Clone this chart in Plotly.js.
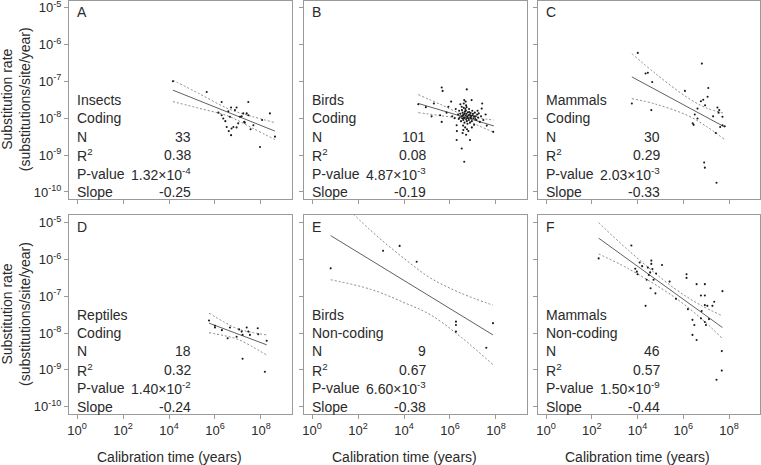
<!DOCTYPE html>
<html><head><meta charset="utf-8">
<script src="https://cdn.plot.ly/plotly-3.0.1.min.js"></script>
<style>html,body{margin:0;padding:0;background:#fff}#chart{width:761px;height:465px}</style>
</head><body><div id="chart"></div>
<script>
// ---- panel text ----
const panelLetters = ['A','B','C','D','E','F'];
const groupNames = ['Insects','Birds','Mammals','Reptiles','Birds','Mammals'];
const seqTypes = ['Coding','Coding','Coding','Coding','Non-coding','Non-coding'];
const nValues = ['33','101','30','18','9','46'];
const r2Values = ['0.38','0.08','0.29','0.32','0.67','0.57'];
const pMantissa = ['1.32','4.87','2.03','1.40','6.60','1.50'];
const pExponent = ['-4','-3','-3','-2','-3','-9'];
const slopeValues = ['-0.25','-0.19','-0.33','-0.24','-0.38','-0.44'];

// ---- ticks ----
const xTickVals = [1, 1e2, 1e4, 1e6, 1e8];
const xTickText = ['10<sup>0</sup>','10<sup>2</sup>','10<sup>4</sup>','10<sup>6</sup>','10<sup>8</sup>'];
const yTickVals = [1e-5, 1e-6, 1e-7, 1e-8, 1e-9, 1e-10];
const yTickText = ['10<sup>-5</sup>','10<sup>-6</sup>','10<sup>-7</sup>','10<sup>-8</sup>','10<sup>-9</sup>','10<sup>-10</sup>'];

// ---- data (log10 calibration time, log10 substitution rate) ----
const insectsCodingLogTime = [4.17,5.64,6.29,6.70,6.94,6.58,7.45,7.45,6.29,6.65,6.51,6.72,6.94,6.70,7.38,7.27,7.16,8.39,8.61,7.96,7.67,7.30,7.09,6.36,7.01,6.80,6.87,7.23,6.45,6.15,7.55,8.05,6.60];
const insectsCodingLogRate = [-7.00,-7.29,-7.56,-7.71,-7.71,-7.81,-7.56,-7.92,-7.92,-7.96,-8.24,-8.28,-8.25,-8.46,-7.87,-8.10,-7.95,-7.87,-8.50,-8.78,-8.19,-8.12,-7.96,-8.01,-8.14,-8.24,-7.78,-7.87,-8.08,-7.85,-8.30,-8.05,-8.35];

const birdsCodingLogTime = [4.62,4.95,5.30,5.64,5.68,5.57,5.64,5.93,5.85,6.05,
6.73,6.94,6.62,6.51,7.38,7.20,7.88,6.29,6.51,6.87,
6.62,6.29,6.58,7.30,7.10,6.40,6.45,6.50,6.55,6.60,
6.62,6.65,6.68,6.70,6.72,6.75,6.78,6.80,6.82,6.85,
6.88,6.90,6.93,6.95,6.98,7.00,7.02,7.05,6.58,6.63,
6.67,6.72,6.76,6.60,6.48,6.42,6.35,6.38,6.52,6.57,
6.66,6.70,6.74,6.83,6.87,6.92,6.97,7.08,7.12,7.15,
7.18,7.22,7.25,7.35,7.45,7.55,6.60,6.68,6.55,6.70,
6.80,6.45,6.25,6.20,6.10,6.30,6.95,7.05,6.76,6.64,
6.84,6.56,6.73,6.89,6.61,6.69,6.79,6.53,7.40,5.20,
7.60];
const birdsCodingLogRate = [-7.62,-7.70,-7.60,-7.17,-7.26,-7.92,-8.10,-7.69,-7.85,-7.55,
-7.22,-7.51,-7.51,-7.69,-7.74,-7.80,-8.37,-8.59,-8.82,-8.59,
-9.18,-8.19,-8.32,-8.10,-8.02,-7.80,-7.88,-7.95,-7.85,-7.90,
-7.98,-7.82,-7.93,-8.02,-7.88,-7.96,-7.84,-7.92,-8.05,-7.90,
-7.98,-7.86,-7.94,-8.08,-7.92,-7.88,-8.00,-7.95,-8.05,-8.12,
-7.75,-7.70,-8.15,-7.72,-8.08,-7.98,-7.90,-8.02,-7.78,-8.20,
-8.25,-7.65,-8.30,-7.75,-8.12,-8.00,-7.80,-7.85,-7.95,-8.05,
-7.90,-7.98,-7.87,-7.95,-8.05,-7.90,-7.60,-7.55,-8.40,-8.45,
-8.35,-7.62,-7.75,-8.00,-7.95,-8.35,-8.25,-8.18,-7.97,-7.87,
-7.83,-7.93,-8.08,-7.93,-8.00,-7.80,-8.00,-8.00,-7.60,-7.95,
-8.20];

const mammalsCodingLogTime = [4.01,3.75,4.35,4.45,4.64,4.60,6.81,6.07,7.09,7.06,6.87,6.77,6.62,6.62,6.41,6.45,7.49,7.57,7.54,7.71,7.61,7.71,7.81,7.42,6.91,6.94,7.45,6.95,7.30,6.50];
const mammalsCodingLogRate = [-6.23,-7.60,-6.79,-6.77,-7.02,-7.78,-6.52,-7.26,-7.18,-7.42,-7.50,-7.54,-7.74,-8.01,-8.14,-8.18,-7.71,-7.78,-7.85,-7.96,-8.24,-8.19,-8.22,-8.40,-9.20,-9.34,-9.75,-7.65,-7.95,-7.90];

const reptilesCodingLogTime = [5.74,6.00,6.00,6.65,6.55,6.94,7.16,7.05,7.38,7.45,7.52,7.20,7.86,7.88,8.25,7.20,8.17,6.30];
const reptilesCodingLogRate = [-7.66,-7.85,-7.80,-7.85,-8.14,-8.10,-7.96,-7.90,-7.85,-7.96,-8.05,-8.05,-7.87,-8.03,-8.21,-8.70,-9.05,-7.92];

const birdsNonCodingLogTime = [0.81,3.09,3.81,4.55,6.26,6.26,6.26,7.87,7.58];
const birdsNonCodingLogRate = [-6.24,-5.76,-5.63,-6.06,-7.69,-7.78,-7.96,-7.73,-8.40];

const mammalsNonCodingLogTime = [2.30,3.73,4.09,3.97,4.60,4.60,4.45,4.65,4.49,4.81,5.07,4.57,4.78,4.35,5.68,6.14,6.14,6.58,6.94,6.77,6.94,6.94,7.05,7.27,7.35,7.71,6.40,6.48,6.40,6.58,6.77,6.99,6.94,7.12,7.68,7.68,7.45,4.20,4.00,4.40,4.70,3.90,4.55,6.80,6.20,5.40];
const mammalsNonCodingLogRate = [-5.97,-5.62,-6.08,-6.33,-6.03,-6.12,-6.22,-6.26,-6.42,-6.38,-6.15,-6.78,-6.92,-7.26,-7.07,-6.40,-6.50,-6.67,-6.67,-6.98,-6.98,-7.24,-7.26,-7.26,-7.15,-6.86,-7.64,-7.78,-8.05,-8.19,-7.60,-7.78,-7.70,-7.62,-8.49,-9.02,-9.27,-6.18,-6.40,-6.55,-6.55,-6.25,-6.35,-7.40,-7.35,-6.60];

// ---- regression line and 95% band (log10) ----
const insectsFitLogTime = [4.17,5.3,6.6,7.6,8.61];
const insectsFitLogRate = [-7.24,-7.52,-7.85,-8.10,-8.35];
const insectsUpperLogRate = [-6.97,-7.33,-7.75,-7.95,-8.12];
const insectsLowerLogRate = [-7.55,-7.73,-7.95,-8.26,-8.58];

const birdsCodingFitLogTime = [4.62,5.6,6.6,7.3,7.91];
const birdsCodingFitLogRate = [-7.60,-7.78,-7.97,-8.10,-8.21];
const birdsCodingUpperLogRate = [-7.36,-7.63,-7.91,-8.00,-8.05];
const birdsCodingLowerLogRate = [-7.85,-7.93,-8.03,-8.22,-8.38];

const mammalsCodingFitLogTime = [3.75,4.8,6.2,7.0,7.81];
const mammalsCodingFitLogRate = [-6.88,-7.23,-7.70,-7.97,-8.24];
const mammalsCodingUpperLogRate = [-6.25,-6.80,-7.45,-7.72,-7.87];
const mammalsCodingLowerLogRate = [-7.47,-7.62,-7.93,-8.22,-8.58];

const reptilesFitLogTime = [5.74,6.4,7.0,7.6,8.25];
const reptilesFitLogRate = [-7.73,-7.89,-8.03,-8.17,-8.32];
const reptilesUpperLogRate = [-7.46,-7.70,-7.89,-7.98,-8.05];
const reptilesLowerLogRate = [-7.99,-8.07,-8.17,-8.36,-8.60];

const birdsNonCodingFitLogTime = [0.81,2.55,4.0,5.17,6.5,7.87];
const birdsNonCodingFitLogRate = [-5.35,-6.01,-6.57,-7.01,-7.52,-8.05];
const birdsNonCodingUpperLogRate = [-4.15,-5.21,-5.97,-6.51,-6.92,-7.24];
const birdsNonCodingLowerLogRate = [-6.55,-6.81,-7.17,-7.51,-8.12,-8.86];

const mammalsNonCodingFitLogTime = [2.30,3.6,5.6,6.7,7.71];
const mammalsNonCodingFitLogRate = [-5.42,-6.00,-6.90,-7.39,-7.85];
const mammalsNonCodingUpperLogRate = [-5.00,-5.75,-6.78,-7.22,-7.53];
const mammalsNonCodingLowerLogRate = [-5.85,-6.25,-7.02,-7.56,-8.15];

const panels = [
  {t: insectsCodingLogTime, r: insectsCodingLogRate, ft: insectsFitLogTime, fr: insectsFitLogRate, up: insectsUpperLogRate, lo: insectsLowerLogRate},
  {t: birdsCodingLogTime, r: birdsCodingLogRate, ft: birdsCodingFitLogTime, fr: birdsCodingFitLogRate, up: birdsCodingUpperLogRate, lo: birdsCodingLowerLogRate},
  {t: mammalsCodingLogTime, r: mammalsCodingLogRate, ft: mammalsCodingFitLogTime, fr: mammalsCodingFitLogRate, up: mammalsCodingUpperLogRate, lo: mammalsCodingLowerLogRate},
  {t: reptilesCodingLogTime, r: reptilesCodingLogRate, ft: reptilesFitLogTime, fr: reptilesFitLogRate, up: reptilesUpperLogRate, lo: reptilesLowerLogRate},
  {t: birdsNonCodingLogTime, r: birdsNonCodingLogRate, ft: birdsNonCodingFitLogTime, fr: birdsNonCodingFitLogRate, up: birdsNonCodingUpperLogRate, lo: birdsNonCodingLowerLogRate},
  {t: mammalsNonCodingLogTime, r: mammalsNonCodingLogRate, ft: mammalsNonCodingFitLogTime, fr: mammalsNonCodingFitLogRate, up: mammalsNonCodingUpperLogRate, lo: mammalsNonCodingLowerLogRate}
];

const W = 761, H = 465;
const FONT = '"Liberation Sans", Arial, Helvetica, sans-serif';
const TXT = '#2a2a2a';
const BOX = '#9a9a9a';
const pow = a => a.map(v => Math.pow(10, v));

const xDomains = [[69/W, 292/W], [304/W, 527/W], [538/W, 760/W]];
const yDomains = [[1 - 199/H, 1 - 0.5/H], [1 - 414/H, 1 - 215/H]];
const yRanges = [[-10.19, -4.81], [-10.2, -4.79]];

const traces = [];
const layout = {
  width: W, height: H,
  margin: {l: 0, r: 0, t: 0, b: 0},
  paper_bgcolor: '#fff', plot_bgcolor: '#fff',
  showlegend: false,
  font: {family: FONT, color: TXT, size: 14},
  annotations: []
};

panels.forEach((p, i) => {
  const n = i + 1;
  const xa = 'x' + (n === 1 ? '' : n), ya = 'y' + (n === 1 ? '' : n);
  const row = i < 3 ? 0 : 1, col = i % 3;
  const axBase = {
    type: 'log', showline: true, mirror: true, linecolor: BOX, linewidth: 1,
    ticks: 'outside', ticklen: 4, tickcolor: BOX, tickwidth: 1,
    showgrid: false, zeroline: false, tickmode: 'array',
    ticklabeloverflow: 'allow',
    tickfont: {family: FONT, size: 13, color: TXT}
  };
  layout['xaxis' + (n === 1 ? '' : n)] = Object.assign({}, axBase, {
    domain: xDomains[col], range: [-0.35, 9.35], anchor: ya,
    tickvals: xTickVals, ticktext: xTickText, showticklabels: row === 1
  });
  layout['yaxis' + (n === 1 ? '' : n)] = Object.assign({}, axBase, {
    domain: yDomains[row], range: yRanges[row], anchor: xa,
    tickvals: yTickVals, ticktext: yTickText, showticklabels: col === 0
  });

  // confidence band
  traces.push({x: pow(p.ft), y: pow(p.up), xaxis: xa, yaxis: ya, mode: 'lines',
    line: {color: '#8a8a8a', width: 1, dash: '2px,2px', shape: 'spline'}, hoverinfo: 'skip'});
  traces.push({x: pow(p.ft), y: pow(p.lo), xaxis: xa, yaxis: ya, mode: 'lines',
    line: {color: '#8a8a8a', width: 1, dash: '2px,2px', shape: 'spline'}, hoverinfo: 'skip'});
  // fit
  traces.push({x: pow(p.ft), y: pow(p.fr), xaxis: xa, yaxis: ya, mode: 'lines',
    line: {color: '#606060', width: 1}, hoverinfo: 'skip'});
  // points
  traces.push({x: pow(p.t), y: pow(p.r), xaxis: xa, yaxis: ya, mode: 'markers',
    marker: {color: '#1a1a1a', size: 2.1, symbol: 'circle'}, hoverinfo: 'skip'});

  const ann = (x, y, text, xanchor, size) => layout.annotations.push({
    xref: xa, yref: ya, x: x, y: y, text: text, showarrow: false,
    xanchor: xanchor, yanchor: 'middle', align: xanchor,
    font: {family: FONT, size: size || 14, color: TXT}
  });
  const LX = -0.1, RX = 5.05;
  ann(LX, -5.12, panelLetters[i], 'left');
  ann(LX, -7.5, groupNames[i], 'left');
  ann(LX, -8.0, seqTypes[i], 'left');
  ann(LX, -8.5, 'N', 'left');
  ann(RX, -8.5, nValues[i], 'right');
  ann(LX, -9.0, 'R<sup>2</sup>', 'left');
  ann(RX, -9.0, r2Values[i], 'right');
  ann(LX, -9.5, 'P-value', 'left');
  ann(RX, -9.5, pMantissa[i] + '×10<sup>' + pExponent[i] + '</sup>', 'right');
  ann(LX, -10.0, 'Slope', 'left');
  ann(RX, -10.0, slopeValues[i], 'right');

  if (row === 1) {
    layout.annotations.push({xref: xa, yref: 'paper', x: 4, y: 1 - 457/H,
      text: 'Calibration time (years)', showarrow: false, xanchor: 'center', yanchor: 'middle',
      font: {family: FONT, size: 14, color: TXT}});
  }
  if (col === 0) {
    layout.annotations.push({xref: 'paper', yref: 'paper', x: 15.5/W,
      y: (yDomains[row][0] + yDomains[row][1]) / 2,
      text: 'Substitution rate<br>(substitutions/site/year)', textangle: -90,
      showarrow: false, xanchor: 'center', yanchor: 'middle',
      font: {family: FONT, size: 14, color: TXT}});
  }
});

Plotly.newPlot('chart', traces, layout, {staticPlot: true, displayModeBar: false});
</script></body></html>
